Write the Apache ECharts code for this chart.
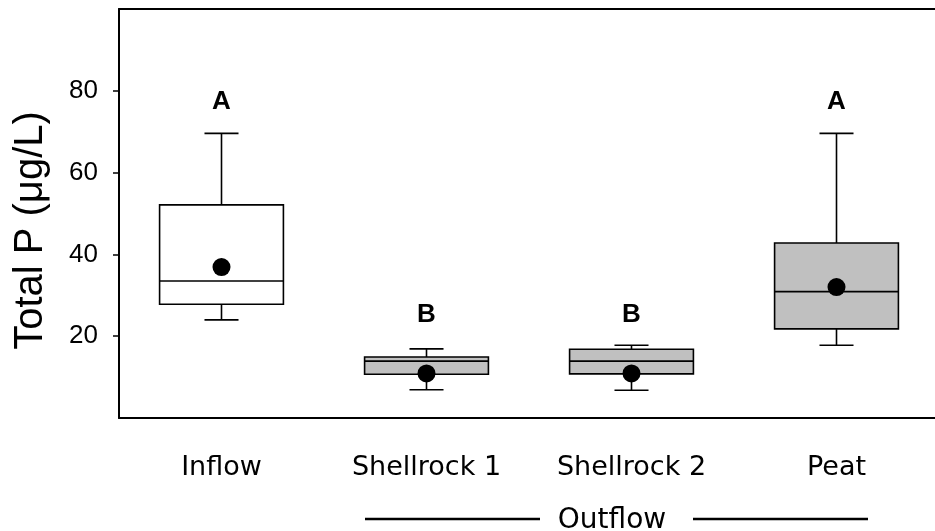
<!DOCTYPE html>
<html>
<head>
<meta charset="utf-8">
<script src="https://cdn.jsdelivr.net/npm/echarts@6/dist/echarts.min.js"></script>
<style>
  html, body { margin: 0; padding: 0; background: #fff; }
  #chart { width: 935px; height: 531px; }
</style>
</head>
<body>
<div id="chart"></div>
<script>
const categories = ['Inflow', 'Shellrock 1', 'Shellrock 2', 'Peat']
const whiskerLow = [24, 6.9, 6.8, 17.8]
const q1 = [27.8, 10.7, 10.8, 21.8]
const median = [33.5, 13.9, 13.9, 30.9]
const q3 = [52.1, 14.9, 16.8, 42.8]
const whiskerHigh = [69.6, 16.9, 17.8, 69.6]
const means = [36.9, 10.9, 10.9, 32.0]
const letters = ['A', 'B', 'B', 'A']
const letterLevel = [77.3, 25.3, 25.3, 77.3]
const yTicks = [20, 40, 60, 80]

const fills = ['#ffffff', '#c0c0c0', '#c0c0c0', '#c0c0c0']

const boxData = categories.map((c, i) => [i, whiskerLow[i], q1[i], median[i], q3[i], whiskerHigh[i]])

const renderBox = (params, api) => {
  const i = api.value(0)
  const band = api.size([1, 0])[0]
  const half = band * 0.302
  const cap = band * 0.083
  const lo = api.coord([i, api.value(1)])
  const b1 = api.coord([i, api.value(2)])
  const md = api.coord([i, api.value(3)])
  const b3 = api.coord([i, api.value(4)])
  const hi = api.coord([i, api.value(5)])
  const x = lo[0]
  const line = { stroke: '#000', lineWidth: 1.6 }
  return {
    type: 'group',
    children: [
      { type: 'line', shape: { x1: x, y1: hi[1], x2: x, y2: b3[1] }, style: line },
      { type: 'line', shape: { x1: x - cap, y1: hi[1], x2: x + cap, y2: hi[1] }, style: line },
      { type: 'line', shape: { x1: x, y1: lo[1], x2: x, y2: b1[1] }, style: line },
      { type: 'line', shape: { x1: x - cap, y1: lo[1], x2: x + cap, y2: lo[1] }, style: line },
      { type: 'rect', shape: { x: x - half, y: b3[1], width: half * 2, height: b1[1] - b3[1] },
        style: { fill: fills[i], stroke: '#000', lineWidth: 1.6 } },
      { type: 'line', shape: { x1: x - half, y1: md[1], x2: x + half, y2: md[1] }, style: line },
    ]
  }
}

const chart = echarts.init(document.getElementById('chart'))
chart.setOption({
  animation: false,
  grid: { left: 119, right: -4, top: 9, bottom: 113, outerBoundsMode: 'none' },
  xAxis: [
    {
      type: 'category',
      data: categories,
      axisLine: { show: true, lineStyle: { color: '#000', width: 2 } },
      axisTick: { alignWithLabel: true, length: 6, lineStyle: { color: '#000', width: 1.5 } },
      axisLabel: { color: '#000', fontFamily: 'DejaVu Sans', fontSize: 27, margin: 36 },
    },
    {
      type: 'category',
      data: categories,
      position: 'top',
      axisLine: { show: true, lineStyle: { color: '#000', width: 2 } },
      axisTick: { show: false },
      axisLabel: { show: false },
    },
  ],
  yAxis: {
    type: 'value',
    min: 0,
    max: 100,
    interval: 20,
    splitLine: { show: false },
    name: 'Total P (μg/L)',
    nameLocation: 'middle',
    nameGap: 68,
    nameTextStyle: { color: '#000', fontFamily: 'Liberation Sans', fontSize: 40, padding: [0, 34, 0, 0] },
    axisLine: { show: true, lineStyle: { color: '#000', width: 2 } },
    axisTick: { show: true, length: 6, customValues: yTicks, lineStyle: { color: '#000', width: 1.5 } },
    axisLabel: { color: '#000', fontFamily: 'Liberation Sans', fontSize: 26, margin: 21, customValues: yTicks },
  },
  series: [
    {
      type: 'custom',
      renderItem: renderBox,
      data: boxData,
      encode: { x: 0, y: [1, 2, 3, 4, 5] },
      z: 2,
    },
    {
      type: 'scatter',
      data: means.map((m, i) => [i, m]),
      symbol: 'circle',
      symbolSize: 18,
      itemStyle: { color: '#000', opacity: 1 },
      z: 3,
    },
    {
      type: 'scatter',
      data: letterLevel.map((v, i) => [i, v]),
      symbolSize: 0,
      itemStyle: { opacity: 1 },
      label: {
        show: true,
        position: 'top',
        distance: 0,
        verticalAlign: 'middle',
        formatter: (p) => letters[p.dataIndex],
        color: '#000',
        fontFamily: 'Liberation Sans',
        fontWeight: 'bold',
        fontSize: 26,
      },
      z: 3,
    },
  ],
  graphic: [
    { type: 'line', shape: { x1: 365, y1: 519, x2: 540, y2: 519 }, style: { stroke: '#000', lineWidth: 2.5 } },
    { type: 'line', shape: { x1: 693, y1: 519, x2: 868, y2: 519 }, style: { stroke: '#000', lineWidth: 2.5 } },
    { type: 'text', x: 612, y: 521, style: { text: 'Outflow', fill: '#000', font: '28px "DejaVu Sans"', align: 'center', verticalAlign: 'middle' } },
  ],
})
</script>
</body>
</html>
